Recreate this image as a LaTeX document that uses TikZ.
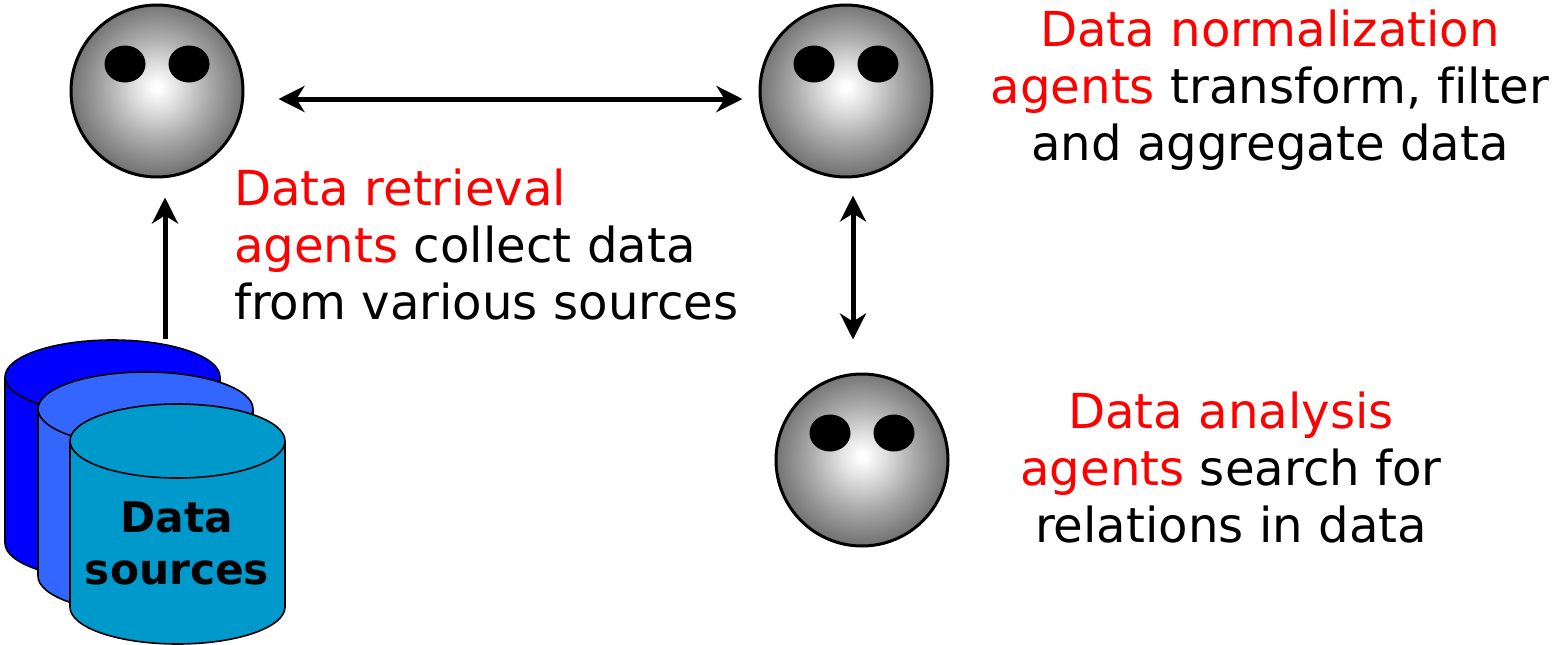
\documentclass[tikz,border=0pt]{standalone}
\usepackage{fontspec}
\setmainfont{DejaVu Sans}[Ligatures=NoCommon]
\usetikzlibrary{arrows.meta}
\definecolor{redtext}{RGB}{255,0,0}
\definecolor{cylA}{RGB}{0,0,255}
\definecolor{cylB}{RGB}{51,102,255}
\definecolor{cylC}{RGB}{0,153,204}
\pgfdeclareradialshading{ballshade}{\pgfpoint{0bp}{1.2bp}}{
  color(0bp)=(white);
  color(1bp)=(white);
  color(6bp)=(black!11);
  color(15bp)=(black!33);
  color(26bp)=(black!57);
  color(50bp)=(black!60)}
\tikzset{
  ball/.style={circle,draw=black,line width=3pt,minimum size=172pt,inner sep=0pt,shading=ballshade},
  eye/.style={fill=black,draw=none},
  agenttext/.style={font=\fontsize{48.2}{57}\selectfont,inner sep=0pt,text=black},
  dbtext/.style={font=\fontsize{42.3}{52}\bfseries\selectfont,inner sep=0pt,align=center,text=black},
  conn/.style={line width=5pt,black},
  uniarrow/.style={conn,-{Stealth[length=26pt,width=26pt,inset=8pt]}},
  biarrow/.style={conn,{Stealth[length=26pt,width=26pt,inset=8pt]}-{Stealth[length=26pt,width=26pt,inset=8pt]}},
  cylbody/.style={draw=black,line width=1.6pt}
}
\newcommand{\agentball}[3]{%
  \node[ball] (#1) at (#2,#3) {};
  \fill[eye] (#2-32,#3+27) ellipse [x radius=20.5,y radius=18.5];
  \fill[eye] (#2+32,#3+27) ellipse [x radius=20.5,y radius=18.5];
}
\newcommand{\dbcyl}[4]{% x, top side y, bottom side y, colour
  \filldraw[cylbody,fill=#4] (#1,#2) -- (#1,#3)
    arc[start angle=180,end angle=360,x radius=107.5,y radius=37]
    -- (#1+215,#2)
    arc[start angle=0,end angle=180,x radius=107.5,y radius=37] -- cycle;
  \draw[cylbody] (#1,#2) arc[start angle=180,end angle=360,x radius=107.5,y radius=37];
}
\begin{document}
\begin{tikzpicture}[x=1pt,y=1pt]
\useasboundingbox (0,-645) rectangle (1556,0);
\fill[white] (0,-645) rectangle (1556,0);
\agentball{ball1}{157}{-91}
\agentball{ball2}{846}{-91}
\agentball{ball3}{862}{-460}
\dbcyl{5}{-377}{-543}{cylA}
\dbcyl{38}{-409}{-576}{cylB}
\dbcyl{70}{-441}{-607}{cylC}
\coordinate (dbtop) at (165,-339);
\node[dbtext] (dblabel) at (177,-543) {Data\\sources};
\node[agenttext,align=left,anchor=west] (retrieval) at (234,-245) {\textcolor{redtext}{Data retrieval}\\\textcolor{redtext}{agents} collect data\\from various sources};
\node[agenttext,align=center] (norm) at (1270,-90) {\textcolor{redtext}{Data normalization}\\\textcolor{redtext}{agents} transform, filter\\and aggregate data};
\node[agenttext,align=center] (analysis) at (1231,-468) {\textcolor{redtext}{Data analysis}\\\textcolor{redtext}{agents} search for\\relations in data};
\draw[biarrow] ([xshift=34pt,yshift=-8pt]ball1.east) -- ([xshift=-16pt,yshift=-8pt]ball2.west);
\draw[biarrow] ([xshift=7pt,yshift=-17pt]ball2.south) -- ([xshift=-9pt,yshift=33pt]ball3.north);
\draw[uniarrow] (dbtop) -- ([xshift=8pt,yshift=-19pt]ball1.south);
\end{tikzpicture}
\end{document}
